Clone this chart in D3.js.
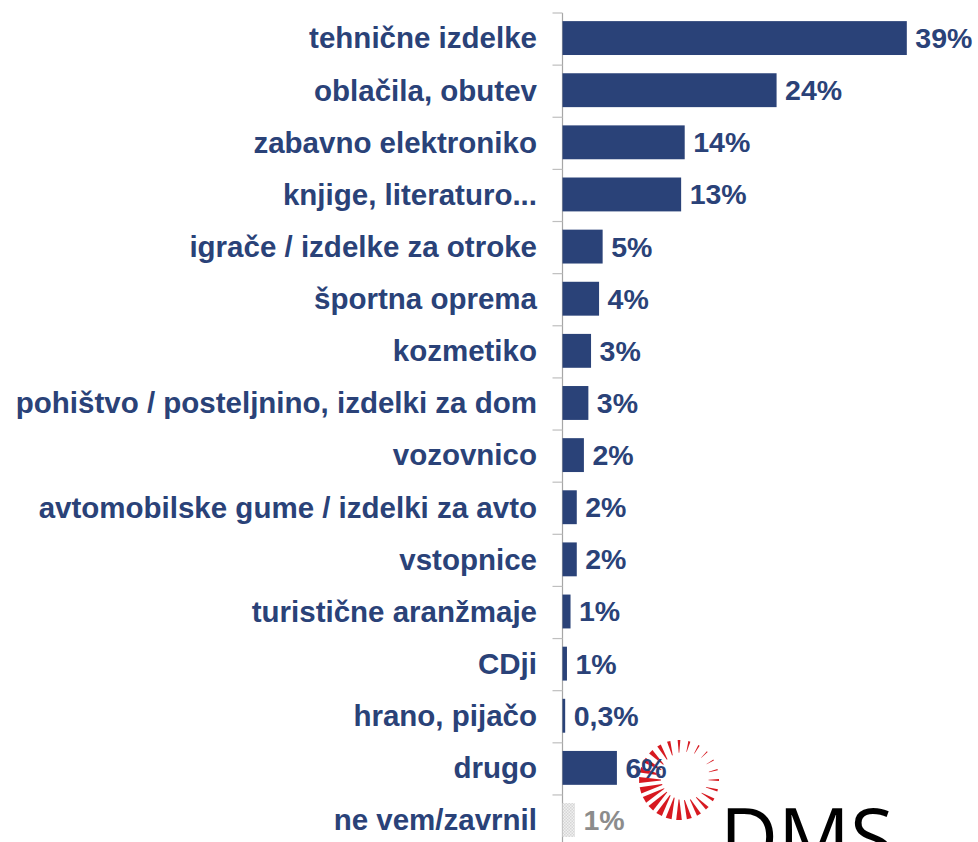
<!DOCTYPE html>
<html>
<head>
<meta charset="utf-8">
<script src="https://cdn.jsdelivr.net/npm/d3@7"></script>
<style>
  html, body { margin: 0; padding: 0; background: #fff; overflow: hidden; }
  svg { display: block; }
</style>
</head>
<body>
<svg id="chart" width="978" height="842"></svg>
<script>
// Purchase categories (top to bottom) and share of respondents in %
const categories = [
  "tehnične izdelke",
  "oblačila, obutev",
  "zabavno elektroniko",
  "knjige, literaturo...",
  "igrače / izdelke za otroke",
  "športna oprema",
  "kozmetiko",
  "pohištvo / posteljnino, izdelki za dom",
  "vozovnico",
  "avtomobilske gume / izdelki za avto",
  "vstopnice",
  "turistične aranžmaje",
  "CDji",
  "hrano, pijačo",
  "drugo",
  "ne vem/zavrnil"
];
const shares = [38.6, 24.0, 13.7, 13.3, 4.5, 4.1, 3.2, 2.9, 2.4, 1.6, 1.6, 0.9, 0.5, 0.3, 6.1, 1.4];
// Categories shown as non-answers (drawn muted)
const mutedCategories = ["ne vem/zavrnil"];

const W = 978, H = 842;
const navy = "#2a4278";
const muted = "#8c8c8c";
const logoRed = "#d71920";
const fontFamily = "'Liberation Sans', Arial, Helvetica, sans-serif";

const svg = d3.select("#chart");

const defs = svg.append("defs");
const pat = defs.append("pattern")
  .attr("id", "dots")
  .attr("width", 3).attr("height", 3)
  .attr("patternUnits", "userSpaceOnUse");
pat.append("rect").attr("width", 3).attr("height", 3).attr("fill", "#f0f0f0");
pat.append("rect").attr("width", 1.5).attr("height", 1.5).attr("fill", "#d6d6d6");
pat.append("rect").attr("x", 1.5).attr("y", 1.5).attr("width", 1.5).attr("height", 1.5).attr("fill", "#d6d6d6");

// ---- company logo: radial burst of red rays plus the wordmark ----
const logo = svg.append("g").attr("transform", "translate(679,780)");
const nRays = 24;
const rayIdx = d3.range(nRays);
logo.selectAll("path.ray")
  .data(rayIdx)
  .enter().append("path")
  .attr("class", "ray")
  .attr("fill", logoRed)
  .attr("d", i => {
    const a = i / nRays * 2 * Math.PI;             // angle, 0 = up, clockwise
    // rays are thinnest toward upper right, heaviest toward lower left
    const t = Math.pow((Math.cos(a - 4.1) + 1) / 2, 0.75);
    const w = 0.012 + 0.07 * t;                     // angular half-width at outer end
    const rOut = 40, rIn = 32 - 15 * t;
    const p = (r, ang) => [Math.sin(ang) * r, -Math.cos(ang) * r];
    const o1 = p(rOut, a - w), o2 = p(rOut, a + w);
    const i1 = p(rIn, a - w * 0.3), i2 = p(rIn, a + w * 0.3);
    return `M${i1}L${o1}L${o2}L${i2}Z`;
  });

svg.append("text")
  .attr("x", 720).attr("y", 866)
  .attr("font-family", "'Open Sans', 'DejaVu Sans', sans-serif")
  .attr("font-size", 80)
  .attr("fill", "#000")
  .text("DMS");

// ---- bar chart ----
const axisX = 562.5;
const x = d3.scaleLinear().domain([0, 40]).range([axisX, axisX + 8.92 * 40]);
const y = d3.scaleBand()
  .domain(categories)
  .range([13, 13 + 52.13 * categories.length])
  .paddingInner(0.35)
  .paddingOuter(0.175);
const step = y.step();

const fmt = v => v < 0.5 ? d3.format(".1f")(v).replace(".", ",") + "%" : Math.round(v) + "%";
const data = categories.map((c, i) => ({ c, v: shares[i], muted: mutedCategories.includes(c) }));

// axis line and tick marks at the band boundaries
svg.append("line")
  .attr("x1", axisX).attr("x2", axisX)
  .attr("y1", 13).attr("y2", H)
  .attr("stroke", "#a6a6a6").attr("stroke-width", 1.2);
svg.selectAll("line.tick")
  .data(d3.range(categories.length + 1))
  .enter().append("line")
  .attr("class", "tick")
  .attr("x1", axisX - 10).attr("x2", axisX)
  .attr("y1", i => 13 + i * step).attr("y2", i => 13 + i * step)
  .attr("stroke", "#bfbfbf").attr("stroke-width", 1.2);

svg.selectAll("rect.bar")
  .data(data)
  .enter().append("rect")
  .attr("class", "bar")
  .attr("x", axisX)
  .attr("y", d => y(d.c) - 1)
  .attr("width", d => x(d.v) - axisX)
  .attr("height", y.bandwidth())
  .attr("fill", d => d.muted ? "url(#dots)" : navy);

// category labels
svg.selectAll("text.cat")
  .data(data)
  .enter().append("text")
  .attr("class", "cat")
  .attr("x", 537)
  .attr("y", d => y(d.c) - 1 + y.bandwidth() / 2)
  .attr("dy", "0.35em")
  .attr("text-anchor", "end")
  .attr("font-family", fontFamily)
  .attr("font-weight", "bold")
  .attr("font-size", 29.5)
  .attr("fill", navy)
  .text(d => d.c);

// value labels
svg.selectAll("text.val")
  .data(data)
  .enter().append("text")
  .attr("class", "val")
  .attr("x", d => x(d.v) + 8.5)
  .attr("y", d => y(d.c) - 1 + y.bandwidth() / 2)
  .attr("dy", "0.35em")
  .attr("font-family", fontFamily)
  .attr("font-weight", "bold")
  .attr("font-size", 28.5)
  .attr("fill", d => d.muted ? muted : navy)
  .text(d => fmt(d.v));
</script>
</body>
</html>
